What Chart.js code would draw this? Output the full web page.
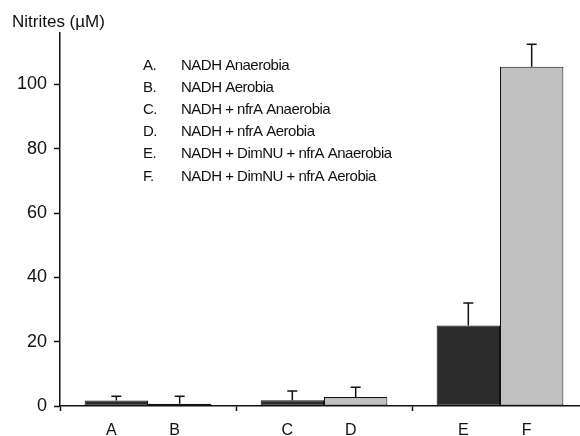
<!DOCTYPE html>
<html>
<head>
<meta charset="utf-8">
<script src="https://cdn.jsdelivr.net/npm/chart.js@4"></script>
<style>
  html, body { margin: 0; background: #fff; overflow: hidden; width: 580px; height: 436px; }
  canvas { display: block; }
</style>
</head>
<body>
<!-- the x axis runs past the right edge in the original, so the canvas is a bit wider than the window -->
<canvas id="nitrites-chart" width="588" height="436"></canvas>
<script>
// Data
const groups = ['1', '2', '3'];
const darkLetters = ['A', 'C', 'E'];
const lightLetters = ['B', 'D', 'F'];
const darkValues = [1.7, 1.8, 25];      // A, C, E (anaerobia)
const lightValues = [0.7, 2.8, 105.5];  // B, D, F (aerobia)
const darkErrors = [1.3, 2.9, 7];
const lightErrors = [2.3, 3.0, 7];
const yTicks = [0, 20, 40, 60, 80, 100];
const legendLetters = ['A.', 'B.', 'C.', 'D.', 'E.', 'F.'];
const legendLabels = [
    'NADH Anaerobia',
    'NADH Aerobia',
    'NADH + nfrA Anaerobia',
    'NADH + nfrA Aerobia',
    'NADH + DimNU + nfrA Anaerobia',
    'NADH + DimNU + nfrA Aerobia'
];
const yTitle = 'Nitrites (\u00b5M)';

const FONT = '"Liberation Sans", Arial, sans-serif';
const INK = '#111';

// Upward-only error bars with a cap
const errorBarPlugin = {
    id: 'errorBars',
    afterDatasetsDraw(chart) {
        const ctx = chart.ctx;
        const y = chart.scales.y;
        const errs = [darkErrors, lightErrors];
        ctx.save();
        ctx.strokeStyle = INK;
        ctx.lineWidth = 1.5;
        chart.data.datasets.forEach((ds, di) => {
            const meta = chart.getDatasetMeta(di);
            meta.data.forEach((bar, i) => {
                const top = y.getPixelForValue(ds.data[i] + errs[di][i]);
                ctx.beginPath();
                ctx.moveTo(bar.x, bar.y);
                ctx.lineTo(bar.x, top);
                ctx.moveTo(bar.x - 5, top);
                ctx.lineTo(bar.x + 5, top);
                ctx.stroke();
            });
        });
        ctx.restore();
    }
};

// Letters under each bar, legend block, axis title
const textPlugin = {
    id: 'texts',
    afterDraw(chart) {
        const ctx = chart.ctx;
        ctx.save();
        ctx.fillStyle = INK;

        // bar letters
        ctx.font = '16px ' + FONT;
        ctx.textAlign = 'center';
        ctx.textBaseline = 'middle';
        const letters = [darkLetters, lightLetters];
        chart.data.datasets.forEach((ds, di) => {
            chart.getDatasetMeta(di).data.forEach((bar, i) => {
                ctx.fillText(letters[di][i], bar.x - 5, 431);
            });
        });

        // axis title
        ctx.textAlign = 'left';
        ctx.textBaseline = 'alphabetic';
        ctx.font = '17px ' + FONT;
        ctx.fillText(yTitle, 12, 27);

        // legend (original type is a bit condensed)
        ctx.font = '15px ' + FONT;
        ctx.letterSpacing = '-0.5px';
        legendLabels.forEach((label, i) => {
            const by = 69.5 + i * 22.2;
            ctx.fillText(legendLetters[i], 143, by);
            ctx.fillText(label, 181, by);
        });
        ctx.restore();
    }
};

new Chart(document.getElementById('nitrites-chart'), {
    type: 'bar',
    data: {
        labels: groups,
        datasets: [
            {
                label: 'Anaerobia',
                data: darkValues,
                backgroundColor: '#2b2b2b',
                borderColor: INK,
                borderWidth: 1,
                borderSkipped: false
            },
            {
                label: 'Aerobia',
                data: lightValues,
                backgroundColor: '#c0c0c0',
                borderColor: INK,
                borderWidth: 1,
                borderSkipped: false
            }
        ]
    },
    options: {
        responsive: false,
        animation: false,
        layout: { padding: { top: 33, right: 0, left: 0, bottom: 0 } },
        datasets: { bar: { categoryPercentage: 0.72, barPercentage: 1 } },
        plugins: {
            legend: { display: false },
            tooltip: { enabled: false }
        },
        scales: {
            x: {
                offset: true,
                grid: {
                    offset: true,
                    drawOnChartArea: false,
                    drawTicks: true,
                    tickLength: 5,
                    tickWidth: 1.5,
                    tickColor: INK
                },
                border: { display: true, color: INK, width: 1.5 },
                ticks: { callback: () => '' },
                afterFit: s => { s.height = 30; }
            },
            y: {
                min: 0,
                max: 116,
                afterBuildTicks: s => { s.ticks = yTicks.map(v => ({ value: v })); },
                grid: {
                    drawOnChartArea: false,
                    tickLength: 6,
                    tickWidth: 1.5,
                    tickColor: INK
                },
                border: { display: true, color: INK, width: 1.5 },
                ticks: {
                    padding: 7,
                    color: INK,
                    font: { family: FONT, size: 18 }
                },
                afterFit: s => { s.width = 60; }
            }
        }
    },
    plugins: [errorBarPlugin, textPlugin]
});
</script>
</body>
</html>
